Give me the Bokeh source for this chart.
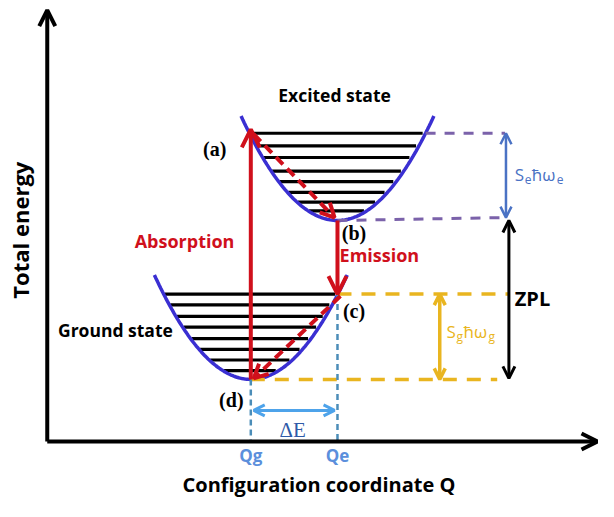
import numpy as np
from bokeh.plotting import figure
from bokeh.models import Range1d, Arrow, OpenHead
from bokeh.core.properties import value
from bokeh.embed import file_html
from bokeh.resources import INLINE

# ---- schematic data (configuration coordinate Q, total energy E) ----
Q_ground = 209          # Qg
Q_excited = 298         # Qe
E_ground_min = 64       # bottom of ground-state parabola
E_excited_min = 228     # bottom of excited-state parabola
curvature = 0.011       # parabola stiffness
half_span = 99          # Q half-width of drawn parabolas
ground_levels = [152, 141, 129, 118, 106, 95, 84, 73]
excited_levels = [318, 305, 293, 279, 268, 257, 247, 238]
axis_Q_max = 565
axis_E_max = 445
tick_labels = ["Qg", "Qe"]
state_labels = ["Excited state", "Ground state"]
point_labels = ["(a)", "(b)", "(c)", "(d)"]

# colours
C_PARA = "#3a2fd2"
C_RED = "#d0101c"
C_PURP = "#7b62aa"
C_BLUE = "#4a72c4"
C_YEL = "#e9b520"
C_TEAL = "#4b8db8"
C_DE = "#4ea3ea"
C_DET = "#2e5aa8"
C_Q = "#5b8fdc"

FONT = value("Open Sans")
SERIF = value("Liberation Serif")

p = figure(width=598, height=501, output_backend="svg", toolbar_location=None,
           x_range=Range1d(-48, 566), y_range=Range1d(-62, 455),
           x_axis_location=None, y_axis_location=None, min_border=0)
p.grid.visible = False
p.outline_line_color = None
p.background_fill_color = "white"


def arrow(x0, y0, x1, y1, color, width, size, double=False, dash="solid"):
    end = OpenHead(size=size, line_color=color, line_width=width)
    start = OpenHead(size=size, line_color=color, line_width=width) if double else None
    p.add_layout(Arrow(x_start=x0, y_start=y0, x_end=x1, y_end=y1, end=end, start=start,
                       line_color=color, line_width=width, line_dash=dash))


def label(x, y, txt, size, color="black", style="bold", font=FONT, align="center",
          baseline="middle", angle=0.0, xo=0, yo=0):
    p.text(x=[x], y=[y], text=[txt], text_font=font, text_font_size=f"{size}px",
           text_font_style=style, text_color=color, text_align=align,
           text_baseline=baseline, angle=angle, x_offset=xo, y_offset=yo)


# ---- axes ----
arrow(0, 0, 0, axis_E_max, "black", 4, 16)
arrow(0, 0, axis_Q_max, 0, "black", 4, 16)

# ---- parabolas and vibrational levels ----
for q0, e0, levels in [(Q_excited, E_excited_min, excited_levels),
                       (Q_ground, E_ground_min, ground_levels)]:
    qs = np.linspace(q0 - half_span, q0 + half_span, 120)
    for lv in levels:
        hw = np.sqrt((lv - e0) / curvature)
        p.segment(x0=[q0 - hw + 1], y0=[lv], x1=[q0 + hw - 3], y1=[lv],
                  line_color="black", line_width=3.2)
    p.line(qs, e0 + curvature * (qs - q0) ** 2, line_color=C_PARA, line_width=3.5)

a = (Q_ground, excited_levels[0])
b = (Q_excited, E_excited_min)
c = (Q_excited, ground_levels[0])
d = (Q_ground, E_ground_min)

# ---- guide lines ----
hw_top = np.sqrt((excited_levels[0] - E_excited_min) / curvature)
p.line([Q_excited + hw_top, 470], [excited_levels[0]] * 2, line_color=C_PURP,
       line_width=3, line_dash="10 9")
p.line([Q_excited, 468], [E_excited_min, E_excited_min + 3], line_color=C_PURP,
       line_width=3, line_dash="10 9")
p.line([Q_excited, 474], [c[1]] * 2, line_color=C_YEL, line_width=3.5, line_dash="14 10")
p.line([Q_ground, 462], [E_ground_min] * 2, line_color=C_YEL, line_width=3.5, line_dash="14 10")
p.line([Q_ground, Q_ground], [E_ground_min, 0], line_color=C_TEAL, line_width=2.5, line_dash="6 4")
p.line([Q_excited, Q_excited], [c[1], 0], line_color=C_TEAL, line_width=2.5, line_dash="6 4")

# ---- transitions ----
arrow(d[0], d[1], a[0], a[1] + 4, C_RED, 4, 18)
arrow(b[0], b[1], c[0], c[1], C_RED, 4, 18)
arrow(a[0] + 3, a[1] - 1, b[0] - 3, b[1] + 3, C_RED, 4, 14, dash="10 6")
arrow(c[0] + 3, c[1] - 2, d[0] + 3, d[1] + 1, C_RED, 4, 14, dash="10 6")

# ---- energy differences ----
arrow(471, excited_levels[0], 471, E_excited_min + 3, C_BLUE, 2.5, 11, double=True)
arrow(474, E_excited_min, 474, E_ground_min + 1, "black", 3, 12, double=True)
arrow(403, c[1], 403, E_ground_min, C_YEL, 3.5, 11, double=True)
arrow(Q_ground + 3, 32, Q_excited - 3, 32, C_DE, 3, 11, double=True)

# ---- texts ----
label(-28, 218, "Total energy", 22, angle=np.pi / 2)
label(279, -44, "Configuration coordinate Q", 20)
label(295, 357, state_labels[0], 17.5)
label(70, 115, state_labels[1], 17.5)
label(141, 207, "Absorption", 18, color=C_RED)
label(341, 192, "Emission", 18, color=C_RED)
label(172, 302, point_labels[0], 20, font=SERIF)
label(315, 215, point_labels[1], 20, font=SERIF)
label(315, 135, point_labels[2], 20, font=SERIF)
label(189, 43, point_labels[3], 20, font=SERIF)
label(480, 147, "ZPL", 20, align="left")
label(252, 12, "ΔE", 21, color=C_DET, style="normal", font=SERIF)
label(Q_ground, -15, tick_labels[0], 17, color=C_Q)
label(Q_excited, -15, tick_labels[1], 17, color=C_Q)

for (x0, y0, sub, col) in [(480, 275, "e", C_BLUE), (410, 113, "g", C_YEL)]:
    label(x0, y0, "S", 17, color=col, style="normal", align="left")
    label(x0, y0, sub, 12, color=col, style="normal", align="left", xo=10, yo=5)
    label(x0, y0, "ħω", 17, color=col, style="normal", align="left", xo=17)
    label(x0, y0, sub, 12, color=col, style="normal", align="left", xo=42, yo=5)

open("out.html", "w").write(file_html(p, INLINE))
